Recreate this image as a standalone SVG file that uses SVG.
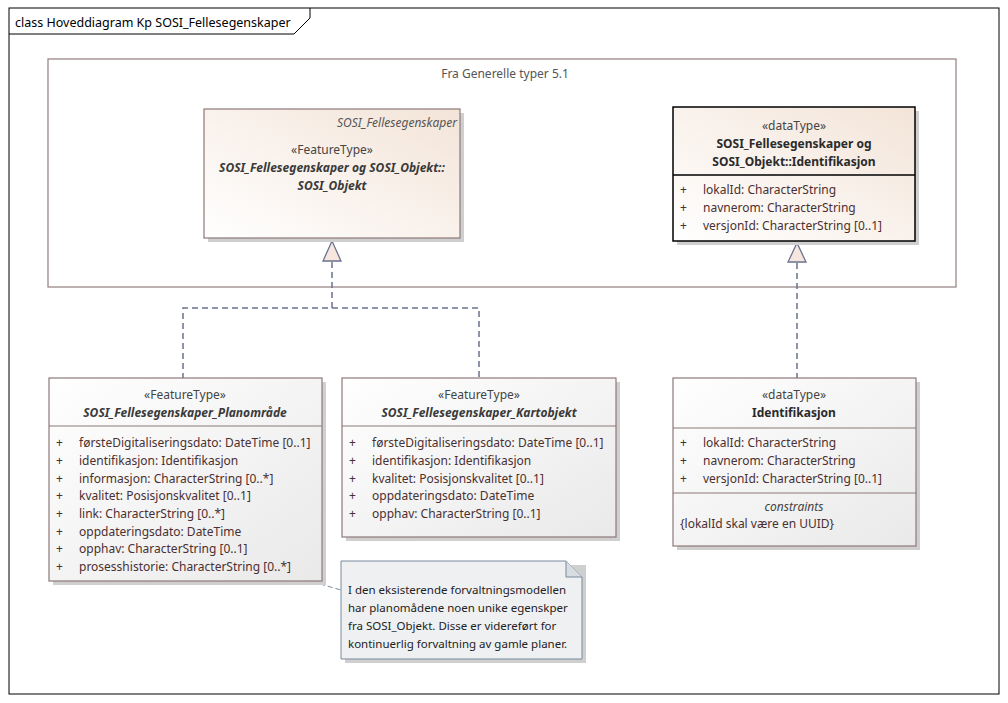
<svg xmlns="http://www.w3.org/2000/svg" width="1008" height="703" viewBox="0 0 1008 703">
<defs>
<linearGradient id="gPeach" x1="0" y1="1" x2="1" y2="0">
<stop offset="0" stop-color="#ffffff"/>
<stop offset="1" stop-color="#f3e4d8"/>
</linearGradient>
<linearGradient id="gGray" x1="0" y1="0" x2="1" y2="1">
<stop offset="0" stop-color="#ffffff"/>
<stop offset="1" stop-color="#e9e9e9"/>
</linearGradient>
<style>
text{font-family:"Noto Sans","Open Sans","DejaVu Sans",sans-serif;font-size:12px;fill:#333333}
.title{font-size:12.5px;fill:#000}
.st{text-anchor:middle;fill:#444}
.nm{text-anchor:middle;font-weight:bold;font-style:italic;fill:#3a3a3a}
.nb{text-anchor:middle;font-weight:bold;fill:#2a2a2a}
.at{fill:#4a3030}
.nt{fill:#222;font-size:11.5px}
.box{stroke:#8c7878;stroke-width:1.2}
.shadow{fill:#cfcfcf}
.sep{stroke:#8c7878;stroke-width:1}
.conn{fill:none;stroke:#6a7390;stroke-width:1.5;stroke-dasharray:6,4}
.tri{fill:#f7e6de;stroke:#6a7390;stroke-width:1.3}
</style>
</defs>
<rect x="0" y="0" width="1008" height="703" fill="#ffffff"/>
<g id="frame">
<rect x="9" y="8" width="990" height="686" fill="none" stroke="#000" stroke-width="1"/>
<path d="M9 34 H294 L310 18 V8" fill="none" stroke="#000" stroke-width="1"/>
<text class="title" x="15" y="27">class Hoveddiagram Kp SOSI_Fellesegenskaper</text>
</g>
<g id="package">
<rect x="48" y="59" width="908" height="228" fill="#ffffff" stroke="#9c8787" stroke-width="1.3"/>
<text x="505" y="78" text-anchor="middle" style="fill:#555">Fra Generelle typer 5.1</text>
</g>
<g id="connectors">
<polyline class="conn" points="332,262 332,308 183,308 183,378"/>
<polyline class="conn" points="332,308 479,308 479,378"/>
<polygon class="tri" points="332,241 323,261 341,261"/>
<line class="conn" x1="797" y1="263" x2="797" y2="378"/>
<polygon class="tri" points="797,243 788,262 806,262"/>
<line x1="320" y1="584" x2="341" y2="590" stroke="#7a8ca0" stroke-width="1" stroke-dasharray="5,3"/>
</g>
<g id="SOSI_Objekt">
<rect class="shadow" x="208" y="113" width="256" height="129"/>
<rect class="box" x="204" y="109" width="256" height="129" fill="url(#gPeach)"/>
<text x="457" y="127" text-anchor="end" style="font-style:italic;fill:#555">SOSI_Fellesegenskaper</text>
<text class="st" x="332" y="154">«FeatureType»</text>
<text class="nm" x="332" y="172">SOSI_Fellesegenskaper og SOSI_Objekt::</text>
<text class="nm" x="332" y="190">SOSI_Objekt</text>
</g>
<g id="Identifikasjon_ext">
<rect class="shadow" x="677" y="111" width="242" height="134"/>
<rect x="673" y="107" width="242" height="134" fill="url(#gPeach)" stroke="#000" stroke-width="1.5"/>
<text class="st" x="794" y="130">«dataType»</text>
<text class="nb" x="794" y="148">SOSI_Fellesegenskaper og</text>
<text class="nb" x="794" y="166">SOSI_Objekt::Identifikasjon</text>
<line x1="673" y1="175" x2="915" y2="175" stroke="#000" stroke-width="1.3"/>
<text class="at" x="680" y="194">+</text><text class="at" x="703" y="194">lokalId: CharacterString</text>
<text class="at" x="680" y="212">+</text><text class="at" x="703" y="212">navnerom: CharacterString</text>
<text class="at" x="680" y="230">+</text><text class="at" x="703" y="230">versjonId: CharacterString [0..1]</text>
</g>
<g id="Planomraade">
<rect class="shadow" x="53" y="382" width="273" height="203"/>
<rect class="box" x="49" y="378" width="273" height="203" fill="url(#gGray)"/>
<text class="st" x="185" y="399">«FeatureType»</text>
<text class="nm" x="185" y="417">SOSI_Fellesegenskaper_Planområde</text>
<line class="sep" x1="49" y1="426" x2="322" y2="426"/>
<text class="at" x="56" y="447">+</text><text class="at" x="79" y="447">førsteDigitaliseringsdato: DateTime [0..1]</text>
<text class="at" x="56" y="465">+</text><text class="at" x="79" y="465">identifikasjon: Identifikasjon</text>
<text class="at" x="56" y="483">+</text><text class="at" x="79" y="483">informasjon: CharacterString [0..*]</text>
<text class="at" x="56" y="500">+</text><text class="at" x="79" y="500">kvalitet: Posisjonskvalitet [0..1]</text>
<text class="at" x="56" y="518">+</text><text class="at" x="79" y="518">link: CharacterString [0..*]</text>
<text class="at" x="56" y="536">+</text><text class="at" x="79" y="536">oppdateringsdato: DateTime</text>
<text class="at" x="56" y="553">+</text><text class="at" x="79" y="553">opphav: CharacterString [0..1]</text>
<text class="at" x="56" y="571">+</text><text class="at" x="79" y="571">prosesshistorie: CharacterString [0..*]</text>
</g>
<g id="Kartobjekt">
<rect class="shadow" x="346" y="382" width="274" height="159"/>
<rect class="box" x="342" y="378" width="274" height="159" fill="url(#gGray)"/>
<text class="st" x="479" y="399">«FeatureType»</text>
<text class="nm" x="479" y="417">SOSI_Fellesegenskaper_Kartobjekt</text>
<line class="sep" x1="342" y1="426" x2="616" y2="426"/>
<text class="at" x="349" y="447">+</text><text class="at" x="372" y="447">førsteDigitaliseringsdato: DateTime [0..1]</text>
<text class="at" x="349" y="465">+</text><text class="at" x="372" y="465">identifikasjon: Identifikasjon</text>
<text class="at" x="349" y="483">+</text><text class="at" x="372" y="483">kvalitet: Posisjonskvalitet [0..1]</text>
<text class="at" x="349" y="500">+</text><text class="at" x="372" y="500">oppdateringsdato: DateTime</text>
<text class="at" x="349" y="518">+</text><text class="at" x="372" y="518">opphav: CharacterString [0..1]</text>
</g>
<g id="Identifikasjon">
<rect class="shadow" x="677" y="382" width="243" height="168"/>
<rect class="box" x="673" y="378" width="243" height="168" fill="url(#gGray)"/>
<text class="st" x="794" y="399">«dataType»</text>
<text class="nb" x="794" y="417">Identifikasjon</text>
<line class="sep" x1="673" y1="428" x2="916" y2="428"/>
<text class="at" x="680" y="447">+</text><text class="at" x="703" y="447">lokalId: CharacterString</text>
<text class="at" x="680" y="465">+</text><text class="at" x="703" y="465">navnerom: CharacterString</text>
<text class="at" x="680" y="483">+</text><text class="at" x="703" y="483">versjonId: CharacterString [0..1]</text>
<line class="sep" x1="673" y1="493" x2="916" y2="493"/>
<text x="794" y="511" text-anchor="middle" style="font-style:italic;fill:#444">constraints</text>
<text class="at" x="680" y="528">{lokalId skal være en UUID}</text>
</g>
<g id="note">
<rect class="shadow" x="345" y="565" width="241" height="98"/>
<path d="M341 561 H566 L582 577 V659 H341 Z" fill="#eef0f2" stroke="#7a8a9c" stroke-width="1"/>
<path d="M566 561 V577 H582" fill="#d8dde2" stroke="#7a8a9c" stroke-width="1"/>
<text class="nt" x="348" y="594">I den eksisterende forvaltningsmodellen</text>
<text class="nt" x="348" y="612">har planomådene noen unike egenskper</text>
<text class="nt" x="348" y="630">fra SOSI_Objekt. Disse er videreført for</text>
<text class="nt" x="348" y="648">kontinuerlig forvaltning av gamle planer.</text>
</g>
</svg>
